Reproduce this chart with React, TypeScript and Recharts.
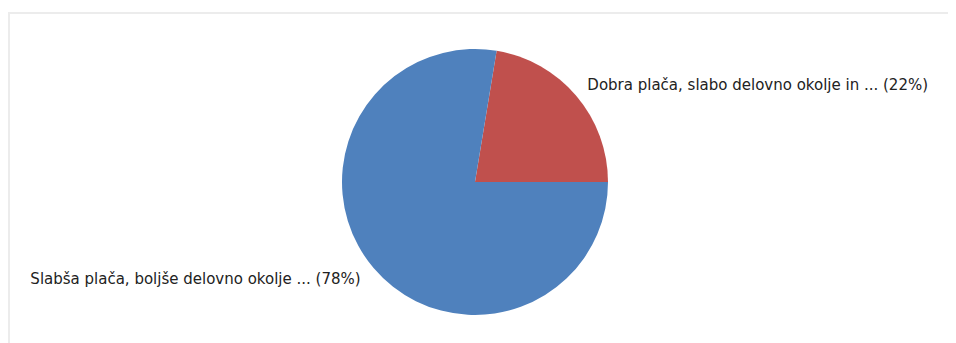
import { Pie, PieChart, Cell } from "recharts";

const categories = [
  "Dobra plača, slabo delovno okolje in ...",
  "Slabša plača, boljše delovno okolje ...",
];
const shares = [22.4, 77.6];
const colors = ["#c0504d", "#4f81bd"];

const data = categories.map((name, i) => ({ name, value: shares[i] }));

const RAD = Math.PI / 180;

function renderLabel(props: any) {
  const { cx, cy, midAngle, outerRadius, name, percent } = props;
  const r = outerRadius + 17;
  const x = cx + r * Math.cos(-midAngle * RAD);
  const y = cy + r * Math.sin(-midAngle * RAD);
  const right = x > cx;
  return (
    <text
      x={right ? x - 2 : x}
      y={y}
      textAnchor={right ? "start" : "end"}
      dominantBaseline="central"
      fill="#222"
      fontSize={15}
      fontFamily="DejaVu Sans, Verdana, sans-serif"
    >
      {`${name} (${Math.round(percent * 100)}%)`}
    </text>
  );
}

export default function App() {
  return (
    <div
      style={{
        marginTop: 4,
        width: 946,
        height: 329,
        borderTop: "2px solid #ececec",
        borderLeft: "2px solid #ececec",
      }}
    >
      <PieChart width={946} height={329}>
        <Pie
          data={data}
          dataKey="value"
          nameKey="name"
          cx={460}
          cy={163}
          outerRadius={133}
          startAngle={0}
          endAngle={360}
          stroke="none"
          label={renderLabel}
          labelLine={false}
          isAnimationActive={false}
        >
          {data.map((d, i) => (
            <Cell key={d.name} fill={colors[i]} />
          ))}
        </Pie>
      </PieChart>
    </div>
  );
}
